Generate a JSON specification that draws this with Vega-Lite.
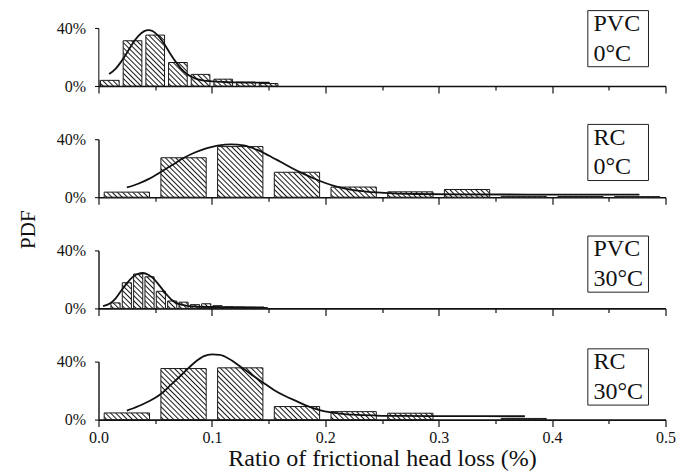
{
  "$schema": "https://vega.github.io/schema/vega-lite/v6.json",
  "padding": {"left": 17.5, "top": 10, "right": 10, "bottom": 5},
  "background": "white",
  "config": {"view": {"stroke": null}, "font": "Liberation Serif"},
  "datasets": {
    "hist": [
      {"panel": "PVC 0", "lo": 0.00, "hi": 0.02, "pdf": 3.9},
      {"panel": "PVC 0", "lo": 0.02, "hi": 0.04, "pdf": 31.2},
      {"panel": "PVC 0", "lo": 0.04, "hi": 0.06, "pdf": 35.1},
      {"panel": "PVC 0", "lo": 0.06, "hi": 0.08, "pdf": 16.2},
      {"panel": "PVC 0", "lo": 0.08, "hi": 0.10, "pdf": 8.0},
      {"panel": "PVC 0", "lo": 0.10, "hi": 0.12, "pdf": 4.7},
      {"panel": "PVC 0", "lo": 0.12, "hi": 0.14, "pdf": 2.7},
      {"panel": "PVC 0", "lo": 0.14, "hi": 0.16, "pdf": 1.7},
      {"panel": "RC 0", "lo": 0.00, "hi": 0.05, "pdf": 3.5},
      {"panel": "RC 0", "lo": 0.05, "hi": 0.10, "pdf": 27.2},
      {"panel": "RC 0", "lo": 0.10, "hi": 0.15, "pdf": 34.9},
      {"panel": "RC 0", "lo": 0.15, "hi": 0.20, "pdf": 17.2},
      {"panel": "RC 0", "lo": 0.20, "hi": 0.25, "pdf": 7.0},
      {"panel": "RC 0", "lo": 0.25, "hi": 0.30, "pdf": 3.7},
      {"panel": "RC 0", "lo": 0.30, "hi": 0.35, "pdf": 5.3},
      {"panel": "RC 0", "lo": 0.35, "hi": 0.40, "pdf": 0.6},
      {"panel": "RC 0", "lo": 0.40, "hi": 0.45, "pdf": 0.5},
      {"panel": "RC 0", "lo": 0.45, "hi": 0.50, "pdf": 0.4},
      {"panel": "PVC 30", "lo": 0.01, "hi": 0.02, "pdf": 3.8},
      {"panel": "PVC 30", "lo": 0.02, "hi": 0.03, "pdf": 17.7},
      {"panel": "PVC 30", "lo": 0.03, "hi": 0.04, "pdf": 23.7},
      {"panel": "PVC 30", "lo": 0.04, "hi": 0.05, "pdf": 21.8},
      {"panel": "PVC 30", "lo": 0.05, "hi": 0.06, "pdf": 11.8},
      {"panel": "PVC 30", "lo": 0.06, "hi": 0.07, "pdf": 5.1},
      {"panel": "PVC 30", "lo": 0.07, "hi": 0.08, "pdf": 4.3},
      {"panel": "PVC 30", "lo": 0.08, "hi": 0.09, "pdf": 2.6},
      {"panel": "PVC 30", "lo": 0.09, "hi": 0.10, "pdf": 3.2},
      {"panel": "PVC 30", "lo": 0.10, "hi": 0.11, "pdf": 1.9},
      {"panel": "PVC 30", "lo": 0.11, "hi": 0.12, "pdf": 1.0},
      {"panel": "PVC 30", "lo": 0.12, "hi": 0.13, "pdf": 0.8},
      {"panel": "PVC 30", "lo": 0.13, "hi": 0.14, "pdf": 0.7},
      {"panel": "PVC 30", "lo": 0.14, "hi": 0.15, "pdf": 0.6},
      {"panel": "RC 30", "lo": 0.00, "hi": 0.05, "pdf": 4.6},
      {"panel": "RC 30", "lo": 0.05, "hi": 0.10, "pdf": 35.2},
      {"panel": "RC 30", "lo": 0.10, "hi": 0.15, "pdf": 35.7},
      {"panel": "RC 30", "lo": 0.15, "hi": 0.20, "pdf": 9.0},
      {"panel": "RC 30", "lo": 0.20, "hi": 0.25, "pdf": 5.5},
      {"panel": "RC 30", "lo": 0.25, "hi": 0.30, "pdf": 4.4},
      {"panel": "RC 30", "lo": 0.35, "hi": 0.40, "pdf": 0.8}
    ],
    "fit": [
      {"panel": "PVC 0", "x": 0.0094, "y": 8.2},
      {"panel": "PVC 0", "x": 0.015, "y": 11.8},
      {"panel": "PVC 0", "x": 0.02, "y": 16.8},
      {"panel": "PVC 0", "x": 0.025, "y": 22.8},
      {"panel": "PVC 0", "x": 0.03, "y": 29.2},
      {"panel": "PVC 0", "x": 0.035, "y": 34.4},
      {"panel": "PVC 0", "x": 0.04, "y": 37.7},
      {"panel": "PVC 0", "x": 0.044, "y": 38.6},
      {"panel": "PVC 0", "x": 0.048, "y": 37.8},
      {"panel": "PVC 0", "x": 0.053, "y": 34.3},
      {"panel": "PVC 0", "x": 0.058, "y": 28.9},
      {"panel": "PVC 0", "x": 0.063, "y": 22.6},
      {"panel": "PVC 0", "x": 0.068, "y": 16.8},
      {"panel": "PVC 0", "x": 0.073, "y": 11.8},
      {"panel": "PVC 0", "x": 0.078, "y": 8.3},
      {"panel": "PVC 0", "x": 0.085, "y": 5.3},
      {"panel": "PVC 0", "x": 0.092, "y": 3.9},
      {"panel": "PVC 0", "x": 0.1, "y": 3.2},
      {"panel": "PVC 0", "x": 0.11, "y": 2.75},
      {"panel": "PVC 0", "x": 0.12, "y": 2.5},
      {"panel": "PVC 0", "x": 0.135, "y": 2.35},
      {"panel": "PVC 0", "x": 0.151, "y": 2.3},
      {"panel": "RC 0", "x": 0.025, "y": 6.7},
      {"panel": "RC 0", "x": 0.035, "y": 9.3},
      {"panel": "RC 0", "x": 0.045, "y": 12.8},
      {"panel": "RC 0", "x": 0.055, "y": 17.4},
      {"panel": "RC 0", "x": 0.065, "y": 22.2},
      {"panel": "RC 0", "x": 0.075, "y": 27.0},
      {"panel": "RC 0", "x": 0.085, "y": 30.8},
      {"panel": "RC 0", "x": 0.095, "y": 33.6},
      {"panel": "RC 0", "x": 0.105, "y": 35.5},
      {"panel": "RC 0", "x": 0.117, "y": 36.5},
      {"panel": "RC 0", "x": 0.128, "y": 35.7},
      {"panel": "RC 0", "x": 0.14, "y": 32.6},
      {"panel": "RC 0", "x": 0.15, "y": 28.8},
      {"panel": "RC 0", "x": 0.16, "y": 24.6},
      {"panel": "RC 0", "x": 0.17, "y": 20.3},
      {"panel": "RC 0", "x": 0.18, "y": 16.4},
      {"panel": "RC 0", "x": 0.19, "y": 12.9},
      {"panel": "RC 0", "x": 0.2, "y": 9.8},
      {"panel": "RC 0", "x": 0.21, "y": 7.3},
      {"panel": "RC 0", "x": 0.22, "y": 5.6},
      {"panel": "RC 0", "x": 0.23, "y": 4.4},
      {"panel": "RC 0", "x": 0.245, "y": 3.3},
      {"panel": "RC 0", "x": 0.26, "y": 2.6},
      {"panel": "RC 0", "x": 0.28, "y": 2.2},
      {"panel": "RC 0", "x": 0.32, "y": 1.95},
      {"panel": "RC 0", "x": 0.4, "y": 1.8},
      {"panel": "RC 0", "x": 0.477, "y": 1.75},
      {"panel": "PVC 30", "x": 0.004, "y": 1.6},
      {"panel": "PVC 30", "x": 0.01, "y": 3.4},
      {"panel": "PVC 30", "x": 0.015, "y": 6.8},
      {"panel": "PVC 30", "x": 0.02, "y": 12.2},
      {"panel": "PVC 30", "x": 0.025, "y": 17.3},
      {"panel": "PVC 30", "x": 0.03, "y": 21.6},
      {"panel": "PVC 30", "x": 0.035, "y": 23.9},
      {"panel": "PVC 30", "x": 0.039, "y": 24.4},
      {"panel": "PVC 30", "x": 0.044, "y": 23.2},
      {"panel": "PVC 30", "x": 0.049, "y": 20.2},
      {"panel": "PVC 30", "x": 0.054, "y": 15.5},
      {"panel": "PVC 30", "x": 0.059, "y": 10.6},
      {"panel": "PVC 30", "x": 0.065, "y": 5.6},
      {"panel": "PVC 30", "x": 0.07, "y": 3.3},
      {"panel": "PVC 30", "x": 0.075, "y": 2.3},
      {"panel": "PVC 30", "x": 0.085, "y": 1.3},
      {"panel": "PVC 30", "x": 0.1, "y": 0.95},
      {"panel": "PVC 30", "x": 0.12, "y": 0.8},
      {"panel": "PVC 30", "x": 0.146, "y": 0.7},
      {"panel": "RC 30", "x": 0.025, "y": 6.2},
      {"panel": "RC 30", "x": 0.035, "y": 9.2},
      {"panel": "RC 30", "x": 0.045, "y": 12.8},
      {"panel": "RC 30", "x": 0.055, "y": 17.6},
      {"panel": "RC 30", "x": 0.065, "y": 24.8},
      {"panel": "RC 30", "x": 0.075, "y": 32.2},
      {"panel": "RC 30", "x": 0.085, "y": 39.6},
      {"panel": "RC 30", "x": 0.093, "y": 43.8},
      {"panel": "RC 30", "x": 0.1, "y": 45.0},
      {"panel": "RC 30", "x": 0.107, "y": 44.6},
      {"panel": "RC 30", "x": 0.115, "y": 42.0},
      {"panel": "RC 30", "x": 0.125, "y": 36.6},
      {"panel": "RC 30", "x": 0.135, "y": 31.0},
      {"panel": "RC 30", "x": 0.145, "y": 25.6},
      {"panel": "RC 30", "x": 0.155, "y": 20.3},
      {"panel": "RC 30", "x": 0.165, "y": 16.1},
      {"panel": "RC 30", "x": 0.175, "y": 12.6},
      {"panel": "RC 30", "x": 0.185, "y": 9.1},
      {"panel": "RC 30", "x": 0.195, "y": 6.6},
      {"panel": "RC 30", "x": 0.205, "y": 5.0},
      {"panel": "RC 30", "x": 0.215, "y": 4.0},
      {"panel": "RC 30", "x": 0.225, "y": 3.4},
      {"panel": "RC 30", "x": 0.245, "y": 2.8},
      {"panel": "RC 30", "x": 0.27, "y": 2.5},
      {"panel": "RC 30", "x": 0.3, "y": 2.4},
      {"panel": "RC 30", "x": 0.34, "y": 2.35},
      {"panel": "RC 30", "x": 0.376, "y": 2.3}
    ]
  },
  "spacing": 53.2,
  "bounds": "flush",
  "vconcat": [
    {
      "width": 567,
      "height": 58,
      "layer": [
        {
          "data": {"name": "hist"},
          "transform": [{"filter": "datum.panel === 'PVC 0'"}],
          "mark": {"type": "rect", "xOffset": 2, "x2Offset": -2, "fill": {"gradient": "linear", "x1": 0, "y1": 1, "x2": 0.3862, "y2": -0.1979, "stops": [
            {"offset": 0.0149, "color": "#ffffff"}, {"offset": 0.0333, "color": "#1a1a1a"}, {"offset": 0.0517, "color": "#ffffff"},
            {"offset": 0.0816, "color": "#ffffff"}, {"offset": 0.1, "color": "#1a1a1a"}, {"offset": 0.1184, "color": "#ffffff"},
            {"offset": 0.1483, "color": "#ffffff"}, {"offset": 0.1667, "color": "#1a1a1a"}, {"offset": 0.1851, "color": "#ffffff"},
            {"offset": 0.2149, "color": "#ffffff"}, {"offset": 0.2333, "color": "#1a1a1a"}, {"offset": 0.2517, "color": "#ffffff"},
            {"offset": 0.2816, "color": "#ffffff"}, {"offset": 0.3, "color": "#1a1a1a"}, {"offset": 0.3184, "color": "#ffffff"},
            {"offset": 0.3483, "color": "#ffffff"}, {"offset": 0.3667, "color": "#1a1a1a"}, {"offset": 0.3851, "color": "#ffffff"},
            {"offset": 0.4149, "color": "#ffffff"}, {"offset": 0.4333, "color": "#1a1a1a"}, {"offset": 0.4517, "color": "#ffffff"},
            {"offset": 0.4816, "color": "#ffffff"}, {"offset": 0.5, "color": "#1a1a1a"}, {"offset": 0.5184, "color": "#ffffff"},
            {"offset": 0.5483, "color": "#ffffff"}, {"offset": 0.5667, "color": "#1a1a1a"}, {"offset": 0.5851, "color": "#ffffff"},
            {"offset": 0.6149, "color": "#ffffff"}, {"offset": 0.6333, "color": "#1a1a1a"}, {"offset": 0.6517, "color": "#ffffff"},
            {"offset": 0.6816, "color": "#ffffff"}, {"offset": 0.7, "color": "#1a1a1a"}, {"offset": 0.7184, "color": "#ffffff"},
            {"offset": 0.7483, "color": "#ffffff"}, {"offset": 0.7667, "color": "#1a1a1a"}, {"offset": 0.7851, "color": "#ffffff"},
            {"offset": 0.8149, "color": "#ffffff"}, {"offset": 0.8333, "color": "#1a1a1a"}, {"offset": 0.8517, "color": "#ffffff"},
            {"offset": 0.8816, "color": "#ffffff"}, {"offset": 0.9, "color": "#1a1a1a"}, {"offset": 0.9184, "color": "#ffffff"},
            {"offset": 0.9483, "color": "#ffffff"}, {"offset": 0.9667, "color": "#1a1a1a"}, {"offset": 0.9851, "color": "#ffffff"}
          ]}},
          "encoding": {
            "x": {"field": "lo", "type": "quantitative", "scale": {"domain": [0, 0.5], "nice": false, "zero": false},
              "axis": {"title": null, "values": [0, 0.05, 0.1, 0.15, 0.2, 0.25, 0.3, 0.35, 0.4, 0.45, 0.5], "labels": false, "grid": false,
                "domainColor": "#111", "domainWidth": 1.6, "tickColor": "#111", "tickWidth": 1.2,
                "tickSize": {"condition": {"test": "abs(datum.value*10 - round(datum.value*10)) < 0.001", "value": 7}, "value": 4}}},
            "x2": {"field": "hi"},
            "y": {"datum": 0, "type": "quantitative", "scale": {"domain": [0, 40], "nice": false},
              "axis": {"title": null, "values": [0, 10, 20, 30, 40], "labelExpr": "datum.value % 20 == 0 ? datum.value + '%' : ''",
                "labelFontSize": 16, "labelPadding": 9, "labelColor": "#111", "labelOverlap": false, "tickSize": 4, "grid": false,
                "domainColor": "#111", "domainWidth": 1.4, "tickColor": "#111", "tickWidth": 1.1}},
            "y2": {"datum": 40}
          }
        },
        {
          "data": {"name": "hist"},
          "transform": [{"filter": "datum.panel === 'PVC 0'"}],
          "mark": {"type": "rect", "xOffset": 1, "x2Offset": -1, "y2Offset": -1.5, "fill": "white"},
          "encoding": {"x": {"field": "lo", "type": "quantitative"}, "x2": {"field": "hi"}, "y": {"field": "pdf", "type": "quantitative"}, "y2": {"datum": 40}}
        },
        {
          "data": {"name": "hist"},
          "transform": [{"filter": "datum.panel === 'PVC 0'"}],
          "mark": {"type": "rect", "xOffset": 2, "x2Offset": -2, "fillOpacity": 0, "stroke": "#1a1a1a", "strokeWidth": 1},
          "encoding": {"x": {"field": "lo", "type": "quantitative"}, "x2": {"field": "hi"}, "y": {"field": "pdf", "type": "quantitative"}, "y2": {"datum": 0}}
        },
        {
          "data": {"name": "fit"},
          "transform": [{"filter": "datum.panel === 'PVC 0'"}],
          "mark": {"type": "line", "interpolate": "monotone", "stroke": "#111", "strokeWidth": 1.8},
          "encoding": {"x": {"field": "x", "type": "quantitative"}, "y": {"field": "y", "type": "quantitative"}}
        },
        {
          "data": {"values": [{}]},
          "mark": {"type": "rect", "fill": "white", "stroke": "#222", "strokeWidth": 1},
          "encoding": {"x": {"datum": 0.4315}, "x2": {"datum": 0.485}, "y": {"datum": 52.0}, "y2": {"datum": 13.3}}
        },
        {
          "data": {"values": [{}]},
          "mark": {"type": "text", "align": "left", "baseline": "alphabetic", "fontSize": 24, "lineHeight": 29.5, "color": "#111", "font": "Liberation Serif"},
          "encoding": {"x": {"datum": 0.4365}, "y": {"datum": 37.9}, "text": {"value": ["PVC", "0°C"]}}
        }
      ]
    },
    {
      "width": 567,
      "height": 58,
      "layer": [
        {
          "data": {"name": "hist"},
          "transform": [{"filter": "datum.panel === 'RC 0'"}],
          "mark": {"type": "rect", "xOffset": 5.7, "x2Offset": -5.7, "fill": {"gradient": "linear", "x1": 0, "y1": 1, "x2": 0.864, "y2": -0.1062, "stops": [
            {"offset": 0.0113, "color": "#ffffff"}, {"offset": 0.025, "color": "#1a1a1a"}, {"offset": 0.0387, "color": "#ffffff"},
            {"offset": 0.0613, "color": "#ffffff"}, {"offset": 0.075, "color": "#1a1a1a"}, {"offset": 0.0887, "color": "#ffffff"},
            {"offset": 0.1113, "color": "#ffffff"}, {"offset": 0.125, "color": "#1a1a1a"}, {"offset": 0.1387, "color": "#ffffff"},
            {"offset": 0.1613, "color": "#ffffff"}, {"offset": 0.175, "color": "#1a1a1a"}, {"offset": 0.1887, "color": "#ffffff"},
            {"offset": 0.2113, "color": "#ffffff"}, {"offset": 0.225, "color": "#1a1a1a"}, {"offset": 0.2387, "color": "#ffffff"},
            {"offset": 0.2613, "color": "#ffffff"}, {"offset": 0.275, "color": "#1a1a1a"}, {"offset": 0.2887, "color": "#ffffff"},
            {"offset": 0.3113, "color": "#ffffff"}, {"offset": 0.325, "color": "#1a1a1a"}, {"offset": 0.3387, "color": "#ffffff"},
            {"offset": 0.3613, "color": "#ffffff"}, {"offset": 0.375, "color": "#1a1a1a"}, {"offset": 0.3887, "color": "#ffffff"},
            {"offset": 0.4113, "color": "#ffffff"}, {"offset": 0.425, "color": "#1a1a1a"}, {"offset": 0.4387, "color": "#ffffff"},
            {"offset": 0.4613, "color": "#ffffff"}, {"offset": 0.475, "color": "#1a1a1a"}, {"offset": 0.4887, "color": "#ffffff"},
            {"offset": 0.5113, "color": "#ffffff"}, {"offset": 0.525, "color": "#1a1a1a"}, {"offset": 0.5387, "color": "#ffffff"},
            {"offset": 0.5613, "color": "#ffffff"}, {"offset": 0.575, "color": "#1a1a1a"}, {"offset": 0.5887, "color": "#ffffff"},
            {"offset": 0.6113, "color": "#ffffff"}, {"offset": 0.625, "color": "#1a1a1a"}, {"offset": 0.6387, "color": "#ffffff"},
            {"offset": 0.6613, "color": "#ffffff"}, {"offset": 0.675, "color": "#1a1a1a"}, {"offset": 0.6887, "color": "#ffffff"},
            {"offset": 0.7113, "color": "#ffffff"}, {"offset": 0.725, "color": "#1a1a1a"}, {"offset": 0.7387, "color": "#ffffff"},
            {"offset": 0.7613, "color": "#ffffff"}, {"offset": 0.775, "color": "#1a1a1a"}, {"offset": 0.7887, "color": "#ffffff"},
            {"offset": 0.8113, "color": "#ffffff"}, {"offset": 0.825, "color": "#1a1a1a"}, {"offset": 0.8387, "color": "#ffffff"},
            {"offset": 0.8613, "color": "#ffffff"}, {"offset": 0.875, "color": "#1a1a1a"}, {"offset": 0.8887, "color": "#ffffff"},
            {"offset": 0.9113, "color": "#ffffff"}, {"offset": 0.925, "color": "#1a1a1a"}, {"offset": 0.9387, "color": "#ffffff"},
            {"offset": 0.9613, "color": "#ffffff"}, {"offset": 0.975, "color": "#1a1a1a"}, {"offset": 0.9887, "color": "#ffffff"}
          ]}},
          "encoding": {
            "x": {"field": "lo", "type": "quantitative", "scale": {"domain": [0, 0.5], "nice": false, "zero": false},
              "axis": {"title": null, "values": [0, 0.05, 0.1, 0.15, 0.2, 0.25, 0.3, 0.35, 0.4, 0.45, 0.5], "labels": false, "grid": false,
                "domainColor": "#111", "domainWidth": 1.6, "tickColor": "#111", "tickWidth": 1.2,
                "tickSize": {"condition": {"test": "abs(datum.value*10 - round(datum.value*10)) < 0.001", "value": 7}, "value": 4}}},
            "x2": {"field": "hi"},
            "y": {"datum": 0, "type": "quantitative", "scale": {"domain": [0, 40], "nice": false},
              "axis": {"title": "PDF", "titleX": -70, "titleY": 90, "titleAngle": 270, "titleAlign": "center", "titleBaseline": "middle",
                "titleFontSize": 21, "titleFontWeight": "normal", "titleColor": "#111", "titleFont": "Liberation Serif",
                "values": [0, 10, 20, 30, 40], "labelExpr": "datum.value % 20 == 0 ? datum.value + '%' : ''",
                "labelFontSize": 16, "labelPadding": 9, "labelColor": "#111", "labelOverlap": false, "tickSize": 4, "grid": false,
                "domainColor": "#111", "domainWidth": 1.4, "tickColor": "#111", "tickWidth": 1.1}},
            "y2": {"datum": 40}
          }
        },
        {
          "data": {"name": "hist"},
          "transform": [{"filter": "datum.panel === 'RC 0'"}],
          "mark": {"type": "rect", "xOffset": 4.7, "x2Offset": -4.7, "y2Offset": -1.5, "fill": "white"},
          "encoding": {"x": {"field": "lo", "type": "quantitative"}, "x2": {"field": "hi"}, "y": {"field": "pdf", "type": "quantitative"}, "y2": {"datum": 40}}
        },
        {
          "data": {"name": "hist"},
          "transform": [{"filter": "datum.panel === 'RC 0'"}],
          "mark": {"type": "rect", "xOffset": 5.7, "x2Offset": -5.7, "fillOpacity": 0, "stroke": "#1a1a1a", "strokeWidth": 1},
          "encoding": {"x": {"field": "lo", "type": "quantitative"}, "x2": {"field": "hi"}, "y": {"field": "pdf", "type": "quantitative"}, "y2": {"datum": 0}}
        },
        {
          "data": {"name": "fit"},
          "transform": [{"filter": "datum.panel === 'RC 0'"}],
          "mark": {"type": "line", "interpolate": "monotone", "stroke": "#111", "strokeWidth": 1.8},
          "encoding": {"x": {"field": "x", "type": "quantitative"}, "y": {"field": "y", "type": "quantitative"}}
        },
        {
          "data": {"values": [{}]},
          "mark": {"type": "rect", "fill": "white", "stroke": "#222", "strokeWidth": 1},
          "encoding": {"x": {"datum": 0.4315}, "x2": {"datum": 0.485}, "y": {"datum": 50.2}, "y2": {"datum": 11.5}}
        },
        {
          "data": {"values": [{}]},
          "mark": {"type": "text", "align": "left", "baseline": "alphabetic", "fontSize": 24, "lineHeight": 29.5, "color": "#111", "font": "Liberation Serif"},
          "encoding": {"x": {"datum": 0.4365}, "y": {"datum": 36.1}, "text": {"value": ["RC", "0°C"]}}
        }
      ]
    },
    {
      "width": 567,
      "height": 58,
      "layer": [
        {
          "data": {"name": "hist"},
          "transform": [{"filter": "datum.panel === 'PVC 30'"}],
          "mark": {"type": "rect", "xOffset": 1.1, "x2Offset": -1.1, "fill": {"gradient": "linear", "x1": 0, "y1": 1, "x2": 0.1772, "y2": -0.1291, "stops": [
            {"offset": 0.0174, "color": "#ffffff"}, {"offset": 0.0385, "color": "#1a1a1a"}, {"offset": 0.0596, "color": "#ffffff"},
            {"offset": 0.0943, "color": "#ffffff"}, {"offset": 0.1154, "color": "#1a1a1a"}, {"offset": 0.1365, "color": "#ffffff"},
            {"offset": 0.1712, "color": "#ffffff"}, {"offset": 0.1923, "color": "#1a1a1a"}, {"offset": 0.2134, "color": "#ffffff"},
            {"offset": 0.2481, "color": "#ffffff"}, {"offset": 0.2692, "color": "#1a1a1a"}, {"offset": 0.2903, "color": "#ffffff"},
            {"offset": 0.3251, "color": "#ffffff"}, {"offset": 0.3462, "color": "#1a1a1a"}, {"offset": 0.3673, "color": "#ffffff"},
            {"offset": 0.402, "color": "#ffffff"}, {"offset": 0.4231, "color": "#1a1a1a"}, {"offset": 0.4442, "color": "#ffffff"},
            {"offset": 0.4789, "color": "#ffffff"}, {"offset": 0.5, "color": "#1a1a1a"}, {"offset": 0.5211, "color": "#ffffff"},
            {"offset": 0.5558, "color": "#ffffff"}, {"offset": 0.5769, "color": "#1a1a1a"}, {"offset": 0.598, "color": "#ffffff"},
            {"offset": 0.6327, "color": "#ffffff"}, {"offset": 0.6538, "color": "#1a1a1a"}, {"offset": 0.6749, "color": "#ffffff"},
            {"offset": 0.7097, "color": "#ffffff"}, {"offset": 0.7308, "color": "#1a1a1a"}, {"offset": 0.7519, "color": "#ffffff"},
            {"offset": 0.7866, "color": "#ffffff"}, {"offset": 0.8077, "color": "#1a1a1a"}, {"offset": 0.8288, "color": "#ffffff"},
            {"offset": 0.8635, "color": "#ffffff"}, {"offset": 0.8846, "color": "#1a1a1a"}, {"offset": 0.9057, "color": "#ffffff"},
            {"offset": 0.9404, "color": "#ffffff"}, {"offset": 0.9615, "color": "#1a1a1a"}, {"offset": 0.9826, "color": "#ffffff"}
          ]}},
          "encoding": {
            "x": {"field": "lo", "type": "quantitative", "scale": {"domain": [0, 0.5], "nice": false, "zero": false},
              "axis": {"title": null, "values": [0, 0.05, 0.1, 0.15, 0.2, 0.25, 0.3, 0.35, 0.4, 0.45, 0.5], "labels": false, "grid": false,
                "domainColor": "#111", "domainWidth": 1.6, "tickColor": "#111", "tickWidth": 1.2,
                "tickSize": {"condition": {"test": "abs(datum.value*10 - round(datum.value*10)) < 0.001", "value": 7}, "value": 4}}},
            "x2": {"field": "hi"},
            "y": {"datum": 0, "type": "quantitative", "scale": {"domain": [0, 40], "nice": false},
              "axis": {"title": null, "values": [0, 10, 20, 30, 40], "labelExpr": "datum.value % 20 == 0 ? datum.value + '%' : ''",
                "labelFontSize": 16, "labelPadding": 9, "labelColor": "#111", "labelOverlap": false, "tickSize": 4, "grid": false,
                "domainColor": "#111", "domainWidth": 1.4, "tickColor": "#111", "tickWidth": 1.1}},
            "y2": {"datum": 40}
          }
        },
        {
          "data": {"name": "hist"},
          "transform": [{"filter": "datum.panel === 'PVC 30'"}],
          "mark": {"type": "rect", "xOffset": 0.3, "x2Offset": -0.3, "y2Offset": -1.5, "fill": "white"},
          "encoding": {"x": {"field": "lo", "type": "quantitative"}, "x2": {"field": "hi"}, "y": {"field": "pdf", "type": "quantitative"}, "y2": {"datum": 40}}
        },
        {
          "data": {"name": "hist"},
          "transform": [{"filter": "datum.panel === 'PVC 30'"}],
          "mark": {"type": "rect", "xOffset": 1.1, "x2Offset": -1.1, "fillOpacity": 0, "stroke": "#1a1a1a", "strokeWidth": 1},
          "encoding": {"x": {"field": "lo", "type": "quantitative"}, "x2": {"field": "hi"}, "y": {"field": "pdf", "type": "quantitative"}, "y2": {"datum": 0}}
        },
        {
          "data": {"name": "fit"},
          "transform": [{"filter": "datum.panel === 'PVC 30'"}],
          "mark": {"type": "line", "interpolate": "monotone", "stroke": "#111", "strokeWidth": 1.8},
          "encoding": {"x": {"field": "x", "type": "quantitative"}, "y": {"field": "y", "type": "quantitative"}}
        },
        {
          "data": {"values": [{}]},
          "mark": {"type": "rect", "fill": "white", "stroke": "#222", "strokeWidth": 1},
          "encoding": {"x": {"datum": 0.4315}, "x2": {"datum": 0.485}, "y": {"datum": 49.9}, "y2": {"datum": 11.2}}
        },
        {
          "data": {"values": [{}]},
          "mark": {"type": "text", "align": "left", "baseline": "alphabetic", "fontSize": 24, "lineHeight": 29.5, "color": "#111", "font": "Liberation Serif"},
          "encoding": {"x": {"datum": 0.4365}, "y": {"datum": 35.8}, "text": {"value": ["PVC", "30°C"]}}
        }
      ]
    },
    {
      "width": 567,
      "height": 58,
      "layer": [
        {
          "data": {"name": "hist"},
          "transform": [{"filter": "datum.panel === 'RC 30'"}],
          "mark": {"type": "rect", "xOffset": 5.7, "x2Offset": -5.7, "fill": {"gradient": "linear", "x1": 0, "y1": 1, "x2": 0.864, "y2": -0.1062, "stops": [
            {"offset": 0.0113, "color": "#ffffff"}, {"offset": 0.025, "color": "#1a1a1a"}, {"offset": 0.0387, "color": "#ffffff"},
            {"offset": 0.0613, "color": "#ffffff"}, {"offset": 0.075, "color": "#1a1a1a"}, {"offset": 0.0887, "color": "#ffffff"},
            {"offset": 0.1113, "color": "#ffffff"}, {"offset": 0.125, "color": "#1a1a1a"}, {"offset": 0.1387, "color": "#ffffff"},
            {"offset": 0.1613, "color": "#ffffff"}, {"offset": 0.175, "color": "#1a1a1a"}, {"offset": 0.1887, "color": "#ffffff"},
            {"offset": 0.2113, "color": "#ffffff"}, {"offset": 0.225, "color": "#1a1a1a"}, {"offset": 0.2387, "color": "#ffffff"},
            {"offset": 0.2613, "color": "#ffffff"}, {"offset": 0.275, "color": "#1a1a1a"}, {"offset": 0.2887, "color": "#ffffff"},
            {"offset": 0.3113, "color": "#ffffff"}, {"offset": 0.325, "color": "#1a1a1a"}, {"offset": 0.3387, "color": "#ffffff"},
            {"offset": 0.3613, "color": "#ffffff"}, {"offset": 0.375, "color": "#1a1a1a"}, {"offset": 0.3887, "color": "#ffffff"},
            {"offset": 0.4113, "color": "#ffffff"}, {"offset": 0.425, "color": "#1a1a1a"}, {"offset": 0.4387, "color": "#ffffff"},
            {"offset": 0.4613, "color": "#ffffff"}, {"offset": 0.475, "color": "#1a1a1a"}, {"offset": 0.4887, "color": "#ffffff"},
            {"offset": 0.5113, "color": "#ffffff"}, {"offset": 0.525, "color": "#1a1a1a"}, {"offset": 0.5387, "color": "#ffffff"},
            {"offset": 0.5613, "color": "#ffffff"}, {"offset": 0.575, "color": "#1a1a1a"}, {"offset": 0.5887, "color": "#ffffff"},
            {"offset": 0.6113, "color": "#ffffff"}, {"offset": 0.625, "color": "#1a1a1a"}, {"offset": 0.6387, "color": "#ffffff"},
            {"offset": 0.6613, "color": "#ffffff"}, {"offset": 0.675, "color": "#1a1a1a"}, {"offset": 0.6887, "color": "#ffffff"},
            {"offset": 0.7113, "color": "#ffffff"}, {"offset": 0.725, "color": "#1a1a1a"}, {"offset": 0.7387, "color": "#ffffff"},
            {"offset": 0.7613, "color": "#ffffff"}, {"offset": 0.775, "color": "#1a1a1a"}, {"offset": 0.7887, "color": "#ffffff"},
            {"offset": 0.8113, "color": "#ffffff"}, {"offset": 0.825, "color": "#1a1a1a"}, {"offset": 0.8387, "color": "#ffffff"},
            {"offset": 0.8613, "color": "#ffffff"}, {"offset": 0.875, "color": "#1a1a1a"}, {"offset": 0.8887, "color": "#ffffff"},
            {"offset": 0.9113, "color": "#ffffff"}, {"offset": 0.925, "color": "#1a1a1a"}, {"offset": 0.9387, "color": "#ffffff"},
            {"offset": 0.9613, "color": "#ffffff"}, {"offset": 0.975, "color": "#1a1a1a"}, {"offset": 0.9887, "color": "#ffffff"}
          ]}},
          "encoding": {
            "x": {"field": "lo", "type": "quantitative", "scale": {"domain": [0, 0.5], "nice": false, "zero": false},
              "axis": {"title": "Ratio of frictional head loss (%)", "titleFontSize": 24, "titleFontWeight": "normal", "titleColor": "#111",
                "titleFont": "Liberation Serif", "titlePadding": 1,
                "values": [0, 0.05, 0.1, 0.15, 0.2, 0.25, 0.3, 0.35, 0.4, 0.45, 0.5],
                "labelExpr": "abs(datum.value*10 - round(datum.value*10)) < 0.001 ? format(datum.value, '.1f') : ''",
                "labelFontSize": 16, "labelPadding": 3, "labelColor": "#111", "labelFlush": false, "labelOverlap": false, "grid": false,
                "domainColor": "#111", "domainWidth": 1.6, "tickColor": "#111", "tickWidth": 1.2,
                "tickSize": {"condition": {"test": "abs(datum.value*10 - round(datum.value*10)) < 0.001", "value": 7}, "value": 4}}},
            "x2": {"field": "hi"},
            "y": {"datum": 0, "type": "quantitative", "scale": {"domain": [0, 40], "nice": false},
              "axis": {"title": null, "values": [0, 10, 20, 30, 40], "labelExpr": "datum.value % 20 == 0 ? datum.value + '%' : ''",
                "labelFontSize": 16, "labelPadding": 9, "labelColor": "#111", "labelOverlap": false, "tickSize": 4, "grid": false,
                "domainColor": "#111", "domainWidth": 1.4, "tickColor": "#111", "tickWidth": 1.1}},
            "y2": {"datum": 40}
          }
        },
        {
          "data": {"name": "hist"},
          "transform": [{"filter": "datum.panel === 'RC 30'"}],
          "mark": {"type": "rect", "xOffset": 4.7, "x2Offset": -4.7, "y2Offset": -1.5, "fill": "white"},
          "encoding": {"x": {"field": "lo", "type": "quantitative"}, "x2": {"field": "hi"}, "y": {"field": "pdf", "type": "quantitative"}, "y2": {"datum": 40}}
        },
        {
          "data": {"name": "hist"},
          "transform": [{"filter": "datum.panel === 'RC 30'"}],
          "mark": {"type": "rect", "xOffset": 5.7, "x2Offset": -5.7, "fillOpacity": 0, "stroke": "#1a1a1a", "strokeWidth": 1},
          "encoding": {"x": {"field": "lo", "type": "quantitative"}, "x2": {"field": "hi"}, "y": {"field": "pdf", "type": "quantitative"}, "y2": {"datum": 0}}
        },
        {
          "data": {"name": "fit"},
          "transform": [{"filter": "datum.panel === 'RC 30'"}],
          "mark": {"type": "line", "interpolate": "monotone", "stroke": "#111", "strokeWidth": 1.8},
          "encoding": {"x": {"field": "x", "type": "quantitative"}, "y": {"field": "y", "type": "quantitative"}}
        },
        {
          "data": {"values": [{}]},
          "mark": {"type": "rect", "fill": "white", "stroke": "#222", "strokeWidth": 1},
          "encoding": {"x": {"datum": 0.4315}, "x2": {"datum": 0.485}, "y": {"datum": 48.8}, "y2": {"datum": 10.0}}
        },
        {
          "data": {"values": [{}]},
          "mark": {"type": "text", "align": "left", "baseline": "alphabetic", "fontSize": 24, "lineHeight": 29.5, "color": "#111", "font": "Liberation Serif"},
          "encoding": {"x": {"datum": 0.4365}, "y": {"datum": 34.7}, "text": {"value": ["RC", "30°C"]}}
        }
      ]
    }
  ]
}
